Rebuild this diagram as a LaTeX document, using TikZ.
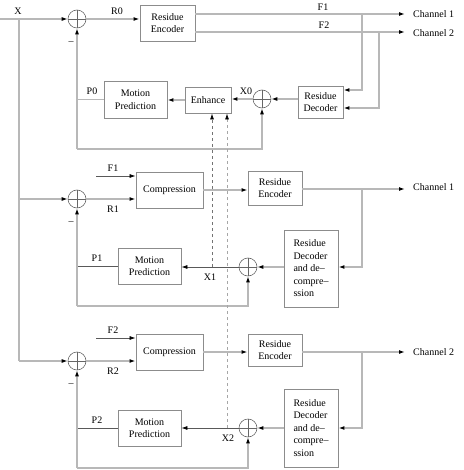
\documentclass[tikz,border=0pt]{standalone}
\usepackage{fontspec}
\setmainfont{Liberation Serif}
\usetikzlibrary{arrows.meta}
\tikzset{
  blk/.style={draw=black!45,line width=0.9pt,fill=white,align=center,inner sep=1pt,font=\fontsize{10}{12.5}\selectfont},
  adder/.style={circle,draw=black!60,line width=0.6pt,minimum size=18pt,inner sep=0pt,
    path picture={\draw[black!60,line width=0.6pt] (path picture bounding box.north) -- (path picture bounding box.south)
      (path picture bounding box.west) -- (path picture bounding box.east);}},
  sig/.style={draw=black!28,line width=1.6pt},
  wire/.style={draw=black!65,line width=0.7pt},
  tip/.style={-{Latex[black,length=6pt,width=4pt]}},
  lbl/.style={font=\fontsize{10}{12}\selectfont,inner sep=0pt},
}
\begin{document}
\begin{tikzpicture}[x=1pt,y=-1pt]
            \useasboundingbox (0,0) rectangle (463,470);
            % top loop
            \coordinate (xin) at (0,19);
            \coordinate (j0) at (19,19);
            \coordinate (j1) at (19,199);
            \coordinate (j2) at (19,361);
            \node[adder] (s0) at (77,19) {};
            \node[blk,minimum width=55,minimum height=36] (enc0) at (167.5,23) {Residue\\Encoder};
            \node[blk,minimum width=45,minimum height=32] (dec0) at (320.5,102) {Residue\\Decoder};
            \node[adder] (x0) at (262,99) {};
            \node[blk,minimum width=46,minimum height=26] (enh) at (208,100) {Enhance};
            \node[blk,minimum width=63,minimum height=37] (mp0) at (135.5,99.5) {Motion\\Prediction};
            \draw[sig] (xin) -- (j0);
            \draw[sig] (j0) -- (j2);
            \draw[sig,tip] (j0) -- (s0);
            \draw[sig,tip] (s0) -- (s0 -| enc0.west);
            \coordinate (c0a) at (405,14);
            \coordinate (c0b) at (405,32);
            \draw[sig,tip] (enc0.east |- c0a) -- (c0a);
            \draw[sig,tip] (enc0.east |- c0b) -- (c0b);
            \coordinate (t0a) at (362,14);
            \coordinate (t0b) at (379,32);
            \draw[sig,tip] (t0a) |- ([yshift=12pt]dec0.east);
            \draw[sig,tip] (t0b) |- ([yshift=-6pt]dec0.east);
            \draw[sig,tip] (dec0.west |- x0) -- (x0);
            \draw[sig,tip] (x0) -- (enh.east |- x0);
            \draw[sig,tip] (enh.west) -- (mp0.east |- enh.west);
            \draw[sig] (mp0.west) -- (s0 |- mp0.west);
            \coordinate (b0) at (77,149);
            \draw[sig,tip] (b0) -- (s0.south);
            \draw[sig,tip] (b0) -| (x0.south);
            \node[lbl] (lr0) at (117,11) {R0};
            \node[lbl] (lf1) at (323,7) {F1};
            \node[lbl] (lf2) at (324,25) {F2};
            \node[lbl,anchor=west] (ch0a) at (413,14) {Channel 1};
            \node[lbl,anchor=west] (ch0b) at (413,33) {Channel 2};
            \node[lbl] (lx0) at (246,91) {X0};
            \node[lbl] (lp0) at (92,91) {P0};
            \node[lbl] (lm0) at (71,43) {--};
            \node[lbl] (lx) at (18,11) {X};
            % middle loop
            \node[adder] (s1) at (77,199) {};
            \node[blk,minimum width=67,minimum height=36] (cmp1) at (169.5,190) {Compression};
            \node[blk,minimum width=54,minimum height=34] (enc1) at (275,188) {Residue\\Encoder};
            \node[blk,minimum width=54,minimum height=77,align=left] (dec1) at (311,268.5) {Residue\\Decoder\\and de--\\compre--\\ssion};
            \node[adder] (x1) at (248,267) {};
            \node[blk,minimum width=63,minimum height=36] (mp1) at (149.5,266) {Motion\\Prediction};
            \draw[sig,tip] (j1) -- (s1);
            \coordinate (f1) at (96,176);
            \draw[wire,tip] (f1) -- (f1 -| cmp1.west);
            \draw[sig,tip] (s1) -- (s1 -| cmp1.west);
            \draw[sig,tip] (cmp1.east) -- (cmp1.east -| enc1.west);
            \coordinate (c1) at (405,189);
            \draw[sig,tip] (enc1.east |- c1) -- (c1);
            \coordinate (t1) at (362,189);
            \draw[sig,tip] (t1) |- (dec1.east |- x1);
            \draw[sig,tip] (dec1.west |- x1) -- (x1);
            \draw[wire,tip] (x1) -- (x1 -| mp1.east);
            \draw[wire] (mp1.west) -- (s1 |- mp1.west);
            \coordinate (b1) at (77,306);
            \draw[sig,tip] (b1) -- (s1.south);
            \draw[sig,tip] (b1) -| (x1.south);
            \node[lbl] (lf1b) at (113,168) {F1};
            \node[lbl] (lr1) at (113,209) {R1};
            \node[lbl] (lp1) at (97,258) {P1};
            \node[lbl] (lx1) at (210,277) {X1};
            \node[lbl] (lm1) at (71,223) {--};
            \node[lbl,anchor=west] (ch1) at (413,187) {Channel 1};
            % bottom loop
            \node[adder] (s2) at (77,361) {};
            \node[blk,minimum width=67,minimum height=36] (cmp2) at (169.5,352) {Compression};
            \node[blk,minimum width=54,minimum height=32] (enc2) at (275,350) {Residue\\Encoder};
            \node[blk,minimum width=54,minimum height=78,align=left] (dec2) at (311,428) {Residue\\Decoder\\and de--\\compre--\\ssion};
            \node[adder] (x2) at (248,428) {};
            \node[blk,minimum width=63,minimum height=36] (mp2) at (149.5,428) {Motion\\Prediction};
            \draw[sig,tip] (j2) -- (s2);
            \coordinate (f2) at (96,338);
            \draw[wire,tip] (f2) -- (f2 -| cmp2.west);
            \draw[sig,tip] (s2) -- (s2 -| cmp2.west);
            \draw[sig,tip] (cmp2.east) -- (cmp2.east -| enc2.west);
            \coordinate (c2) at (405,352);
            \draw[sig,tip] (enc2.east |- c2) -- (c2);
            \coordinate (t2) at (362,352);
            \draw[sig,tip] (t2) |- (dec2.east |- x2);
            \draw[sig,tip] (dec2.west |- x2) -- (x2);
            \draw[wire,tip] (x2) -- (x2 -| mp2.east);
            \draw[wire] (mp2.west) -- (s2 |- mp2.west);
            \coordinate (b2) at (77,468);
            \draw[sig,tip] (b2) -- (s2.south);
            \draw[sig,tip] (b2) -| (x2.south);
            \node[lbl] (lf2b) at (113,330) {F2};
            \node[lbl] (lr2) at (113,371) {R2};
            \node[lbl] (lp2) at (97,420) {P2};
            \node[lbl] (lx2) at (228,438) {X2};
            \node[lbl] (lm2) at (71,385) {--};
            \node[lbl,anchor=west] (ch2) at (413,352) {Channel 2};
            % enhancement taps
            \coordinate (d1) at (212,267);
            \coordinate (d2) at (227,428);
            \draw[dashed,black!55,line width=0.8pt,tip] (d1) -- (d1 |- enh.south);
            \draw[dashed,black!35,line width=0.8pt,tip] (d2) -- (d2 |- enh.south);
        \end{tikzpicture}
\end{document}
